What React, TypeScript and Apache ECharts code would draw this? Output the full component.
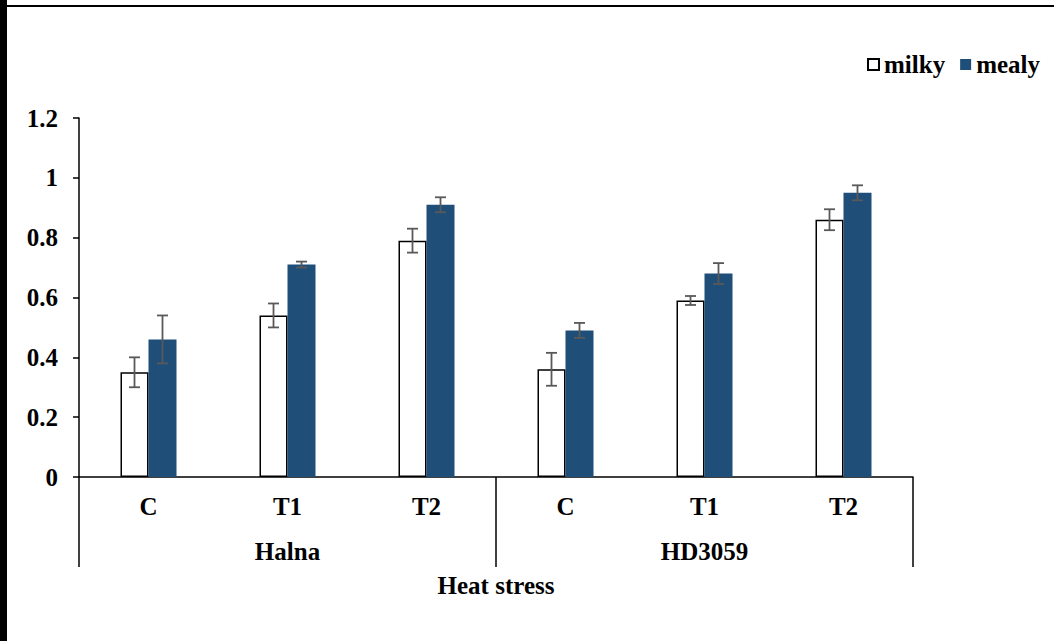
import React, { useEffect, useRef } from "react";
import * as echarts from "echarts";

// Grain sample categories (treatment) within each variety group
const categories = ["C", "T1", "T2", "C", "T1", "T2"];
const groups = ["Halna", "HD3059"];

// Mean values per treatment and standard errors
const milky = [0.35, 0.54, 0.79, 0.36, 0.59, 0.86];
const mealy = [0.46, 0.71, 0.91, 0.49, 0.68, 0.95];
const milkyErr = [0.05, 0.04, 0.04, 0.055, 0.015, 0.035];
const mealyErr = [0.08, 0.01, 0.025, 0.025, 0.035, 0.025];

const BAR_W = 28;
const FONT = "Liberation Serif";
const ERR_COLOR = "#595959";

function errorSeries(name: string, vals: number[], errs: number[], side: number) {
  return {
    type: "custom",
    name: name + "-err",
    xAxisIndex: 0,
    yAxisIndex: 0,
    z: 10,
    silent: true,
    data: vals.map((v, i) => [i, v - errs[i], v + errs[i]]),
    renderItem: (_params: any, api: any) => {
      const lo = api.coord([api.value(0), api.value(1)]);
      const hi = api.coord([api.value(0), api.value(2)]);
      const x = lo[0] + (side * BAR_W) / 2;
      const cap = 5.5;
      const style = { stroke: ERR_COLOR, lineWidth: 1.8 };
      return {
        type: "group",
        children: [
          { type: "line", shape: { x1: x, y1: hi[1], x2: x, y2: lo[1] }, style },
          { type: "line", shape: { x1: x - cap, y1: hi[1], x2: x + cap, y2: hi[1] }, style },
          { type: "line", shape: { x1: x - cap, y1: lo[1], x2: x + cap, y2: lo[1] }, style },
        ],
      };
    },
  };
}

export default function App() {
  const ref = useRef<HTMLDivElement>(null);

  useEffect(() => {
    if (!ref.current) return;
    const chart = echarts.init(ref.current, undefined, { renderer: "svg" });
    const textBase = { fontFamily: FONT, fontWeight: "bold" as const, fontSize: 25, color: "#000" };

    chart.setOption({
      animation: false,
      backgroundColor: "#fff",
      graphic: [
        { type: "rect", shape: { x: 0, y: 0, width: 7, height: 641 }, style: { fill: "#000" } },
        { type: "rect", shape: { x: 7, y: 5, width: 1047, height: 2 }, style: { fill: "#000" } },
      ],
      legend: {
        top: 47,
        right: 9,
        icon: "rect",
        itemWidth: 11,
        itemHeight: 11,
        itemGap: 15,
        textStyle: { ...textBase },
        data: ["milky", "mealy"],
      },
      grid: { left: 79, right: 141, top: 118, bottom: 164, containLabel: false },
      xAxis: [
        {
          type: "category",
          data: categories,
          position: "bottom",
          axisLine: { show: true, lineStyle: { color: "#000", width: 1.5 } },
          axisTick: { show: false },
          axisLabel: { ...textBase, margin: 17, interval: 0 },
        },
        {
          type: "category",
          data: groups,
          position: "bottom",
          offset: 0,
          axisLine: { show: false },
          axisTick: { show: true, length: 90, interval: 0, lineStyle: { color: "#000", width: 1.5 } },
          axisLabel: { ...textBase, margin: 62, interval: 0 },
          name: "Heat stress",
          nameLocation: "middle",
          nameGap: 96,
          nameTextStyle: { ...textBase },
        },
      ],
      yAxis: {
        type: "value",
        min: 0,
        max: 1.2,
        interval: 0.2,
        splitLine: { show: false },
        axisLine: { show: true, lineStyle: { color: "#000", width: 1.5 } },
        axisTick: { show: true, length: 6, lineStyle: { color: "#000", width: 1.5 } },
        axisLabel: {
          ...textBase,
          margin: 21,
          formatter: (v: number) => String(Number(v.toFixed(1))),
        },
      },
      series: [
        {
          name: "milky",
          type: "bar",
          barWidth: BAR_W,
          barGap: "0%",
          data: milky,
          itemStyle: { color: "#ffffff", borderColor: "#000", borderWidth: 1.5 },
        },
        {
          name: "mealy",
          type: "bar",
          barWidth: BAR_W,
          barGap: "0%",
          data: mealy,
          itemStyle: { color: "#1F4E79" },
        },
        errorSeries("milky", milky, milkyErr, -1),
        errorSeries("mealy", mealy, mealyErr, 1),
      ],
    });

    return () => chart.dispose();
  }, []);

  return (
    <div
      ref={ref}
      style={{ position: "absolute", left: 0, top: 0, width: 1054, height: 641 }}
    />
  );
}
